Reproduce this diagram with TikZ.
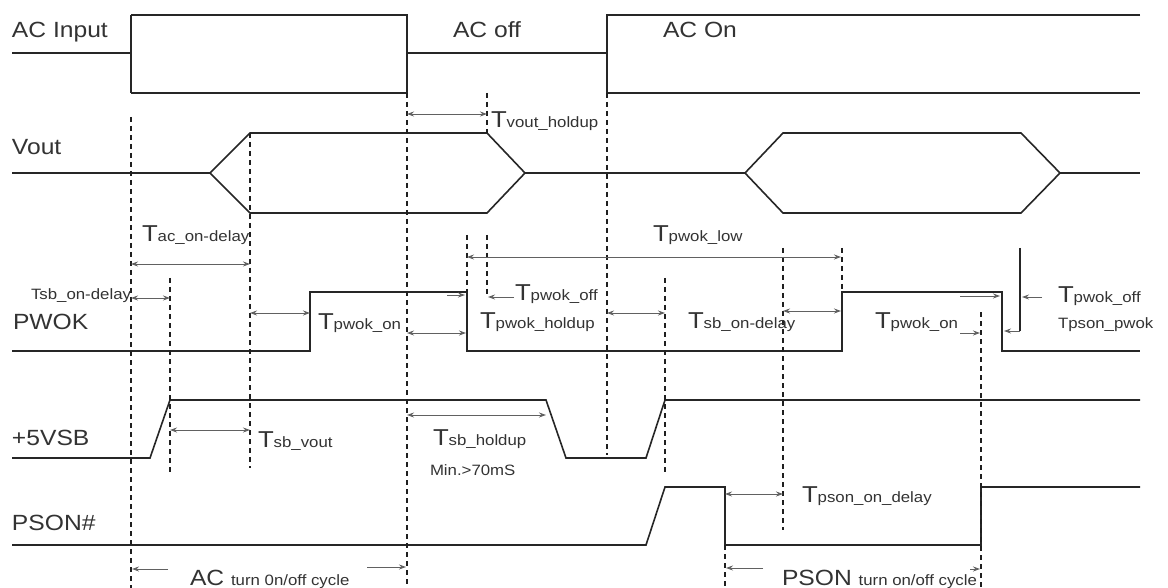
\documentclass[tikz,border=0pt]{standalone}
\usepackage{fontspec}
\usetikzlibrary{arrows.meta}
\newfontfamily\lblfont{Liberation Sans}[FakeStretch=1.12]
\newcommand\bigT{{\fontsize{23}{23}\selectfont T}}
\newcommand\smtxt{\fontsize{15}{15}\selectfont}
\newcommand\mainsz{\fontsize{22}{22}\selectfont}
\newcommand\tlab[1]{\bigT{\smtxt #1}}
\newcommand\darr[5]{\coordinate (#1a) at (#2,#4); \coordinate (#1b) at (#3,#4); \draw[#5] (#1a) -- (#1b);}
\newcommand\vdl[4]{\coordinate (#1t) at (#2,#3); \coordinate (#1b) at (#2,#4); \draw[vdash] (#1t) -- (#1b);}
\tikzset{
  sig/.style={line width=1.6pt, draw=black!85, line join=miter},
  vdash/.style={line width=1.4pt, draw=black!88, dash pattern=on 5pt off 4pt},
  dimline/.style={line width=0.9pt, draw=black!62, arrows={Stealth[length=7pt,width=5pt]-Stealth[length=7pt,width=5pt]}},
  rarr/.style={line width=0.9pt, draw=black!62, arrows={-Stealth[length=7pt,width=5pt]}},
  lbl/.style={inner sep=0pt, outer sep=0pt, text=black!80, font=\lblfont, anchor=base west},
}
\begin{document}
\begin{tikzpicture}[x=1pt,y=-1pt]
\useasboundingbox (0,0) rectangle (1168,588);
\fill[white] (0,0) rectangle (1168,588);

% ---------- signals ----------
% AC input
\draw[sig] (12,53) -- (131,53);
\draw[sig] (131,15) -- (131,93);
\draw[sig] (131,15) -- (407,15) -- (407,93) -- (131,93);
\draw[sig] (407,53) -- (607,53);
\draw[sig] (1140,15) -- (607,15) -- (607,93) -- (1140,93);
% Vout
\draw[sig] (12,173) -- (210,173);
\draw[sig] (210,173) -- (250,133) -- (487,133) -- (525,173) -- (487,213) -- (250,213) -- cycle;
\draw[sig] (525,173) -- (745,173);
\draw[sig] (745,173) -- (783,133) -- (1021,133) -- (1060,173) -- (1021,213) -- (783,213) -- cycle;
\draw[sig] (1060,173) -- (1140,173);
% PWOK
\draw[sig] (12,351) -- (310,351) -- (310,292) -- (467,292) -- (467,351) -- (842,351) -- (842,292) -- (1002,292) -- (1002,351) -- (1140,351);
% +5VSB
\draw[sig] (12,458) -- (150,458) -- (170,400) -- (546,400) -- (566,458) -- (646,458) -- (665,400) -- (1140,400);
% PSON#
\draw[sig] (12,545) -- (646,545) -- (665,487) -- (725,487) -- (725,545) -- (981,545) -- (981,487) -- (1140,487);

% ---------- dashed markers ----------
\vdl{d1}{131}{117}{588}
\vdl{d2}{250}{133}{468}
\vdl{d3}{170}{278}{475}
\vdl{d4}{407}{93}{588}
\vdl{d5}{487}{93}{133}
\vdl{d6}{487}{235}{297}
\vdl{d7}{467}{235}{292}
\vdl{d8}{607}{93}{455}
\vdl{d9}{665}{278}{475}
\vdl{d10}{783}{248}{530}
\vdl{d11}{842}{248}{292}
\vdl{d12}{981}{312}{588}
\vdl{d13}{725}{545}{588}

% ---------- dimension arrows ----------
\darr{a1}{407}{487}{114}{dimline}
\darr{a2}{131}{250}{264}{dimline}
\darr{a3}{131}{170}{298}{dimline}
\darr{a4}{250}{310}{313}{dimline}
\darr{a5}{467}{841}{257}{dimline}
\darr{a6}{514}{488}{297}{rarr}
\darr{a7}{447}{465}{295}{rarr}
\darr{a8}{407}{466}{333}{dimline}
\darr{a9}{607}{665}{313}{dimline}
\darr{a10}{783}{841}{311}{dimline}
\darr{a11}{960}{1000}{296}{rarr}
\darr{a12}{960}{980}{333}{rarr}
\darr{a13}{1042}{1022}{297}{rarr}
\coordinate (v1) at (1020,248);
\coordinate (v2) at (1020,331);
\coordinate (v3) at (1004,331);
\draw[line width=1.3pt, draw=black!85] (v1) -- (v2);
\draw[rarr] (v2) -- (v3);
\darr{a14}{170}{250}{430}{dimline}
\darr{a15}{407}{546}{415}{dimline}
\darr{a16}{725}{783}{494}{dimline}
\darr{a17}{168}{132}{569}{rarr}
\darr{a18}{367}{406}{567}{rarr}
\darr{a19}{763}{726}{568}{rarr}
\darr{a20}{970}{980}{569}{rarr}

% ---------- signal names ----------
\node[lbl] (nac) at (12,38) {\mainsz AC Input};
\node[lbl] (noff) at (453,38) {\mainsz AC off};
\node[lbl] (non) at (663,38) {\mainsz AC On};
\node[lbl] (nvout) at (12,155) {\mainsz Vout};
\node[lbl] (npwok) at (13,329) {\mainsz PWOK};
\node[lbl] (nvsb) at (12,445) {\mainsz +5VSB};
\node[lbl] (npson) at (12,530) {\mainsz PSON\#};

% ---------- timing labels ----------
\node[lbl] (t1) at (491,128) {\tlab{vout\_holdup}};
\node[lbl] (t2) at (142,242) {\tlab{ac\_on-delay}};
\node[lbl, anchor=base east] (t3) at (131,300) {\smtxt Tsb\_on-delay};
\node[lbl] (t4) at (318,329) {\tlab{pwok\_on}};
\node[lbl] (t5) at (653,242) {\tlab{pwok\_low}};
\node[lbl] (t6) at (515,301) {\tlab{pwok\_off}};
\node[lbl] (t7) at (480,328) {\tlab{pwok\_holdup}};
\node[lbl] (t8) at (688,328) {\tlab{sb\_on-delay}};
\node[lbl] (t9) at (875,328) {\tlab{pwok\_on}};
\node[lbl] (t10) at (1058,302) {\tlab{pwok\_off}};
\node[lbl] (t11) at (1058,328) {\smtxt Tpson\_pwok};
\node[lbl] (t12) at (258,447) {\tlab{sb\_vout}};
\node[lbl] (t13) at (433,445) {\tlab{sb\_holdup}};
\node[lbl] (t14) at (430,475) {\smtxt Min.>70mS};
\node[lbl] (t15) at (802,502) {\tlab{pson\_on\_delay}};
\node[lbl] (t16) at (190,585) {\mainsz AC \smtxt turn 0n/off cycle};
\node[lbl] (t17) at (782,585) {\mainsz PSON \smtxt turn on/off cycle};
\end{tikzpicture}
\end{document}
